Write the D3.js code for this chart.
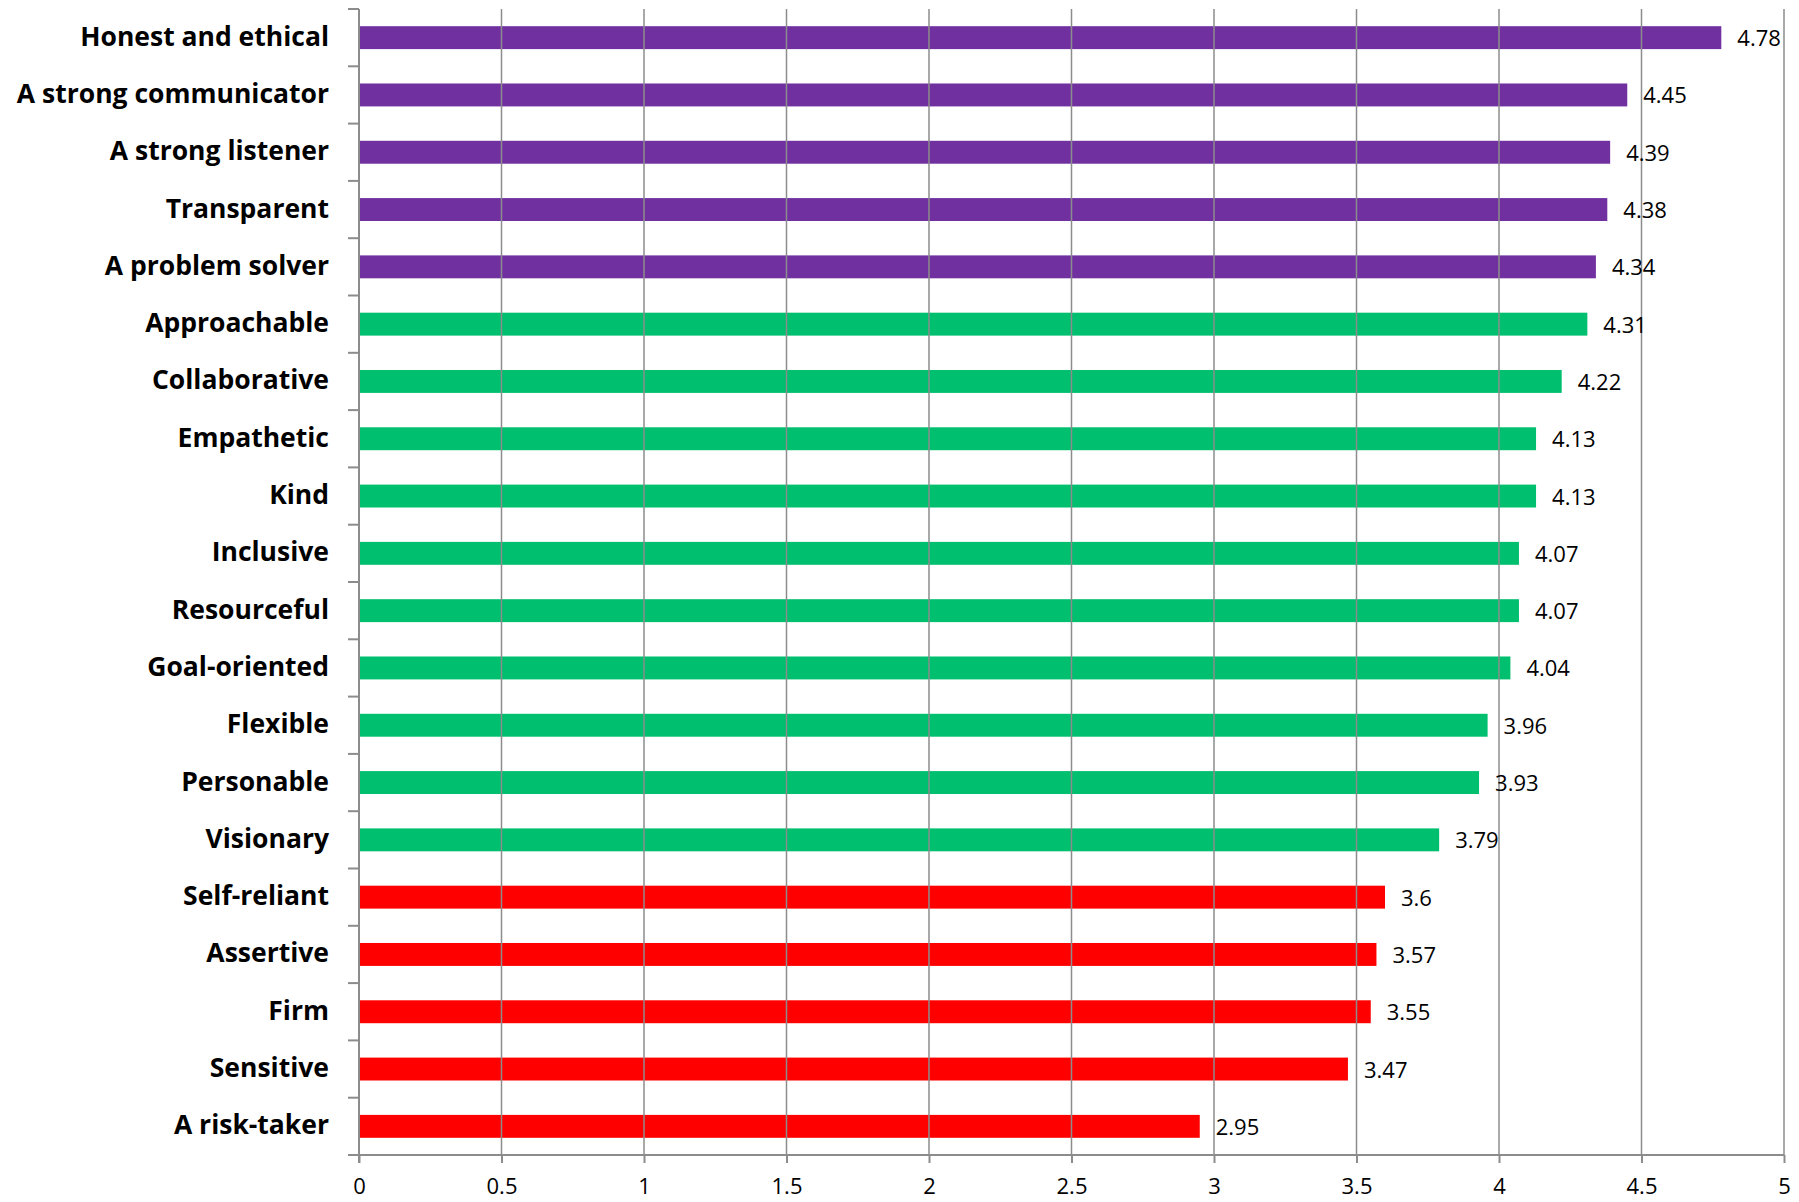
<!DOCTYPE html>
<html>
<head>
<meta charset="utf-8">
<script src="https://cdn.jsdelivr.net/npm/d3@7"></script>
<style>
  body { margin: 0; background: #fff; }
</style>
</head>
<body>
<svg id="chart"></svg>
<script>
// traits, top to bottom
var traits = ["Honest and ethical", "A strong communicator", "A strong listener", "Transparent",
  "A problem solver", "Approachable", "Collaborative", "Empathetic", "Kind", "Inclusive",
  "Resourceful", "Goal-oriented", "Flexible", "Personable", "Visionary", "Self-reliant",
  "Assertive", "Firm", "Sensitive", "A risk-taker"];
var scores = [4.78, 4.45, 4.39, 4.38, 4.34, 4.31, 4.22, 4.13, 4.13, 4.07,
  4.07, 4.04, 3.96, 3.93, 3.79, 3.6, 3.57, 3.55, 3.47, 2.95];
var groups = ["top", "top", "top", "top", "top", "mid", "mid", "mid", "mid", "mid",
  "mid", "mid", "mid", "mid", "mid", "low", "low", "low", "low", "low"];
var xTicks = [0, 0.5, 1, 1.5, 2, 2.5, 3, 3.5, 4, 4.5, 5];

var colors = { top: "#7030A0", mid: "#00BF6F", low: "#FF0000" };

var width = 1799, height = 1202;
var margin = { top: 9, right: 15, bottom: 47, left: 359 };
var w = width - margin.left - margin.right,
    h = height - margin.top - margin.bottom;

var svg = d3.select("#chart")
    .attr("width", width)
    .attr("height", height);

var g = svg.append("g")
    .attr("transform", "translate(" + margin.left + "," + margin.top + ")");

var x = d3.scaleLinear().domain([0, 5]).range([0, w]);
var y = d3.scaleBand().domain(traits).range([0, h]).paddingInner(0.6).paddingOuter(0.3);
var band = h / traits.length;

// bars
g.selectAll(".bar")
    .data(traits)
    .enter()
    .append("rect")
    .attr("x", 0)
    .attr("y", function(d) { return y(d); })
    .attr("width", function(d, i) { return x(scores[i]); })
    .attr("height", y.bandwidth())
    .attr("fill", function(d, i) { return colors[groups[i]]; });

// vertical gridlines (they sit on top of the bars in the original)
g.selectAll(".grid")
    .data(xTicks.slice(1))
    .enter()
    .append("line")
    .attr("x1", function(d) { return x(d); })
    .attr("x2", function(d) { return x(d); })
    .attr("y1", 0)
    .attr("y2", h)
    .attr("stroke", "#8c8c8c")
    .attr("stroke-width", 1.5);

// value labels
g.selectAll(".val")
    .data(traits)
    .enter()
    .append("text")
    .attr("x", function(d, i) { return x(scores[i]) + 16; })
    .attr("y", function(d) { return y(d) + y.bandwidth() / 2 + 8.5; })
    .attr("font-family", "'Open Sans', sans-serif")
    .attr("font-size", 22)
    .attr("fill", "#000")
    .text(function(d, i) { return scores[i]; });

// y axis
var yAxis = g.append("g");
yAxis.append("line")
    .attr("x1", 0).attr("x2", 0).attr("y1", 0).attr("y2", h + 8)
    .attr("stroke", "#8c8c8c").attr("stroke-width", 2);
yAxis.selectAll(".ytick")
    .data(d3.range(traits.length + 1))
    .enter()
    .append("line")
    .attr("x1", -11).attr("x2", 0)
    .attr("y1", function(d) { return d * band; })
    .attr("y2", function(d) { return d * band; })
    .attr("stroke", "#8c8c8c").attr("stroke-width", 2);
yAxis.selectAll(".ylab")
    .data(traits)
    .enter()
    .append("text")
    .attr("x", -30)
    .attr("y", function(d) { return y(d) + y.bandwidth() / 2 + 8; })
    .attr("text-anchor", "end")
    .attr("font-family", "'Open Sans', sans-serif")
    .attr("font-weight", "bold")
    .attr("font-size", 26.5)
    .attr("fill", "#000")
    .text(function(d) { return d; });

// x axis
var xAxis = g.append("g").attr("transform", "translate(0," + h + ")")
    .call(d3.axisBottom(x).tickValues(xTicks).tickSize(8).tickPadding(15)
      .tickFormat(function(d) { return d; }));
xAxis.select(".domain").attr("stroke", "#8c8c8c").attr("stroke-width", 2)
    .attr("d", "M0,0H" + w);
xAxis.selectAll(".tick line").attr("stroke", "#8c8c8c").attr("stroke-width", 2);
xAxis.selectAll(".tick text")
    .attr("font-family", "'Open Sans', sans-serif")
    .attr("font-size", 22)
    .attr("fill", "#000");
</script>
</body>
</html>
